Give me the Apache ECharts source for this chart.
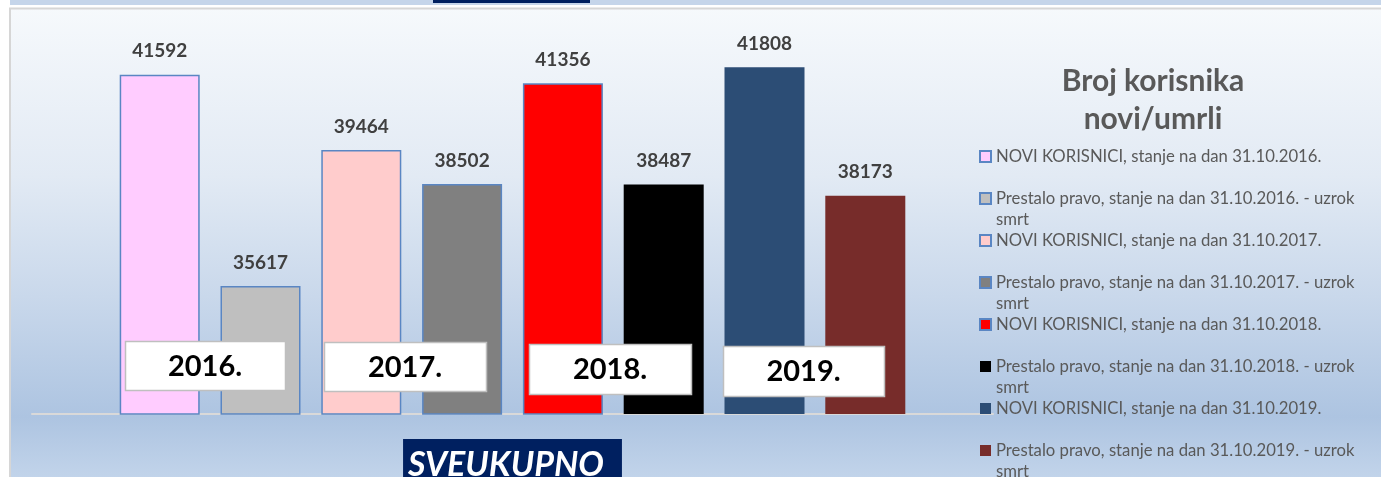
<!DOCTYPE html>
<html>
<head>
<meta charset="utf-8">
<title>Broj korisnika novi/umrli</title>
<script src="https://cdn.jsdelivr.net/npm/echarts@6/dist/echarts.min.js"></script>
<style>
  html, body { margin: 0; padding: 0; background: #ffffff; }
  #chart { width: 1381px; height: 477px; }
</style>
</head>
<body>
<div id="chart"></div>
<script>
// Category shown under the bars
const categories = ['SVEUKUPNO'];

// One series per bar (legend entries)
const seriesNames = [
  'NOVI KORISNICI, stanje na dan 31.10.2016.',
  'Prestalo pravo, stanje na dan 31.10.2016. - uzrok smrt',
  'NOVI KORISNICI, stanje na dan 31.10.2017.',
  'Prestalo pravo, stanje na dan 31.10.2017. - uzrok smrt',
  'NOVI KORISNICI, stanje na dan 31.10.2018.',
  'Prestalo pravo, stanje na dan 31.10.2018. - uzrok smrt',
  'NOVI KORISNICI, stanje na dan 31.10.2019.',
  'Prestalo pravo, stanje na dan 31.10.2019. - uzrok smrt'
];
const seriesValues = [41592, 35617, 39464, 38502, 41356, 38487, 41808, 38173];

// Year captions placed over each pair of bars
const yearLabels = ['2016.', '2017.', '2018.', '2019.'];

// Bar fills and outlines
const barColors = ['#ffccff', '#bfbfbf', '#ffcccc', '#808080', '#ff0000', '#000000', '#2c4d75', '#772c2a'];
const barBorders = ['#5a86c3', '#5a86c3', '#5a86c3', '#5a86c3', '#5a86c3', null, null, null];

const FONT = 'Lato, "Open Sans", sans-serif';

const chart = echarts.init(document.getElementById('chart'), null, { renderer: 'canvas' });

const series = seriesNames.map((name, i) => ({
  type: 'bar',
  name: name,
  data: [seriesValues[i]],
  barWidth: 80,
  barGap: '26%',
  itemStyle: {
    color: barColors[i],
    borderColor: barBorders[i] || barColors[i],
    borderWidth: barBorders[i] ? 1.5 : 0
  },
  label: {
    show: true,
    position: 'top',
    distance: 14,
    formatter: '{c}',
    fontFamily: FONT,
    fontWeight: 'bold',
    fontSize: 19,
    color: '#404040'
  },
  emphasis: { disabled: true },
  z: 2
}));

// Boxes holding the year captions
const yearBoxes = [
  { x: 125, y: 341, w: 160, h: 49 },
  { x: 324, y: 342, w: 162, h: 49 },
  { x: 529, y: 344, w: 162, h: 50 },
  { x: 723, y: 346, w: 161, h: 50 }
];

const yearGraphics = [];
yearLabels.forEach((txt, i) => {
  const b = yearBoxes[i];
  yearGraphics.push({
    type: 'rect',
    z: 100,
    silent: true,
    shape: { x: b.x + 0.5, y: b.y + 0.5, width: b.w, height: b.h },
    style: { fill: '#ffffff', stroke: '#bfbfbf', lineWidth: 1.5 }
  });
  yearGraphics.push({
    type: 'text',
    z: 101,
    silent: true,
    x: b.x + b.w / 2,
    y: b.y + b.h / 2 + 1,
    style: {
      text: txt,
      fill: '#000000',
      font: 'bold 29px ' + FONT,
      align: 'center',
      verticalAlign: 'middle'
    }
  });
});

const option = {
  animation: false,
  backgroundColor: '#ffffff',
  title: {
    text: 'Broj korisnika\nnovi/umrli',
    left: 1153,
    top: 62,
    padding: 0,
    textAlign: 'center',
    textStyle: {
      fontFamily: FONT,
      fontWeight: 'bold',
      fontSize: 30,
      lineHeight: 38,
      color: '#595959'
    }
  },
  legend: {
    orient: 'vertical',
    left: 979,
    top: 146,
    width: 400,
    height: 420,
    padding: 0,
    itemGap: 0,
    itemWidth: 11,
    itemHeight: 11,
    icon: 'rect',
    selectedMode: false,
    data: seriesNames,
    formatter: function (name) {
      // Longer entries wrap onto a second line; an empty first line keeps the icon beside the first text line
      if (name.indexOf(' smrt') !== -1) {
        return ' \n' + name.replace(' smrt', '\nsmrt');
      }
      return name;
    },
    textStyle: {
      fontFamily: FONT,
      fontSize: 16.7,
      lineHeight: 21,
      color: '#595959'
    }
  },
  grid: {
    left: 32,
    right: 388,
    top: 25,
    bottom: 63,
    outerBoundsMode: 'none',
    containLabel: false
  },
  xAxis: {
    type: 'category',
    data: categories,
    axisLine: { show: true, lineStyle: { color: '#d9d9d9', width: 2 } },
    axisTick: { show: false },
    axisLabel: {
      show: true,
      margin: 25,
      fontFamily: FONT,
      fontSize: 34,
      fontWeight: 'bold',
      fontStyle: 'italic',
      color: '#ffffff',
      backgroundColor: '#002060',
      lineHeight: 38,
      padding: [7, 18, 8, 5]
    },
    splitLine: { show: false }
  },
  yAxis: {
    type: 'value',
    min: 32000,
    max: 43000,
    show: false,
    splitLine: { show: false }
  },
  graphic: [
    // outer frame strip at the top
    {
      type: 'rect', z: -10, silent: true,
      shape: { x: 10, y: 0, width: 1371, height: 5 },
      style: { fill: '#c5d5ea' }
    },
    {
      type: 'rect', z: -9, silent: true,
      shape: { x: 433, y: 0, width: 157, height: 3 },
      style: { fill: '#002060' }
    },
    // chart area with gradient fill
    {
      type: 'rect', z: -10, silent: true,
      shape: { x: 10, y: 8.5, width: 1380, height: 480 },
      style: {
        fill: new echarts.graphic.LinearGradient(0, 0, 0, 1, [
          { offset: 0, color: '#f6f9fc' },
          { offset: 0.35, color: '#e2eaf4' },
          { offset: 0.6, color: '#c9d8eb' },
          { offset: 0.85, color: '#adc4e1' },
          { offset: 1, color: '#c6d7ec' }
        ]),
        stroke: '#d6d6d6',
        lineWidth: 2
      }
    }
  ].concat(yearGraphics),
  series: series
};

chart.setOption(option);
</script>
</body>
</html>
